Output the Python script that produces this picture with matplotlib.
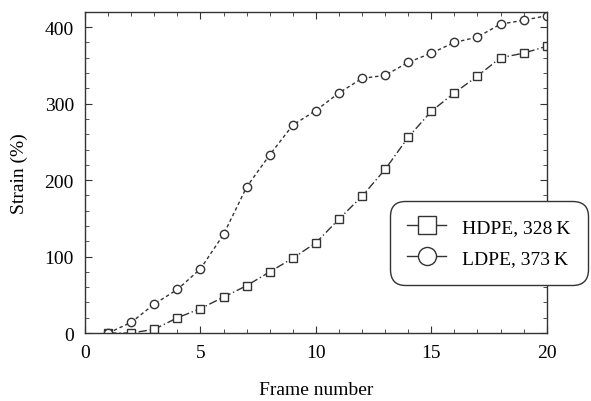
import matplotlib
matplotlib.use("Agg")
import matplotlib.pyplot as plt
from matplotlib.lines import Line2D
from matplotlib.ticker import MultipleLocator

frames = list(range(1, 21))
hdpe = [0, 0, 5, 20, 32, 47, 62, 80, 98, 118, 149, 179, 214, 256, 290, 314, 336, 360, 366, 375]
ldpe = [0, 14, 38, 57, 84, 129, 191, 233, 272, 291, 314, 333, 337, 354, 366, 380, 387, 404, 409, 415]
labels = ["HDPE, 328\u2009K", "LDPE, 373\u2009K"]

plt.rcParams["font.family"] = ["Liberation Serif", "DejaVu Serif"]

fig = plt.figure(figsize=(5.91, 4.02), dpi=100)
ax = fig.add_axes([0.144, 0.169, 0.781, 0.799])

col = "#333333"
ax.plot(frames, hdpe, linestyle=(0, (6, 2, 1, 2)), color=col, lw=1.0,
        marker="s", markersize=6, markerfacecolor="white", markeredgecolor=col, markeredgewidth=1.0)
ax.plot(frames, ldpe, linestyle=(0, (2.5, 2)), color=col, lw=1.0,
        marker="o", markersize=6, markerfacecolor="white", markeredgecolor=col, markeredgewidth=1.0)

ax.set_xlim(0, 20)
ax.set_ylim(0, 420)
ax.xaxis.set_major_locator(MultipleLocator(5))
ax.xaxis.set_minor_locator(MultipleLocator(1))
ax.yaxis.set_major_locator(MultipleLocator(100))
ax.yaxis.set_minor_locator(MultipleLocator(20))
ax.tick_params(which="both", direction="in", top=True, right=True, color=col, labelsize=14, pad=8)
ax.tick_params(which="major", length=5)
ax.tick_params(which="minor", length=3)
for s in ax.spines.values():
    s.set_color(col)
    s.set_linewidth(1.0)

ax.set_xlabel("Frame number", fontsize=14, labelpad=14)
ax.set_ylabel("Strain (%)", fontsize=14, labelpad=12)

handles = [
    Line2D([], [], color=col, lw=1.0, marker="s", markersize=13, markerfacecolor="white", markeredgecolor=col),
    Line2D([], [], color=col, lw=1.0, marker="o", markersize=13, markerfacecolor="white", markeredgecolor=col),
]
leg = ax.legend(handles, labels, loc="center", bbox_to_anchor=(0.827, 0.394), bbox_transform=fig.transFigure,
                fontsize=14, handlelength=2.0, handletextpad=0.8, borderpad=0.6, labelspacing=0.7,
                borderaxespad=0, fancybox=True, framealpha=1, edgecolor=col)
leg.get_frame().set_linewidth(1.0)
leg.get_frame().set_boxstyle("round", pad=0.3, rounding_size=0.8)

fig.savefig("out.png", dpi=100)
